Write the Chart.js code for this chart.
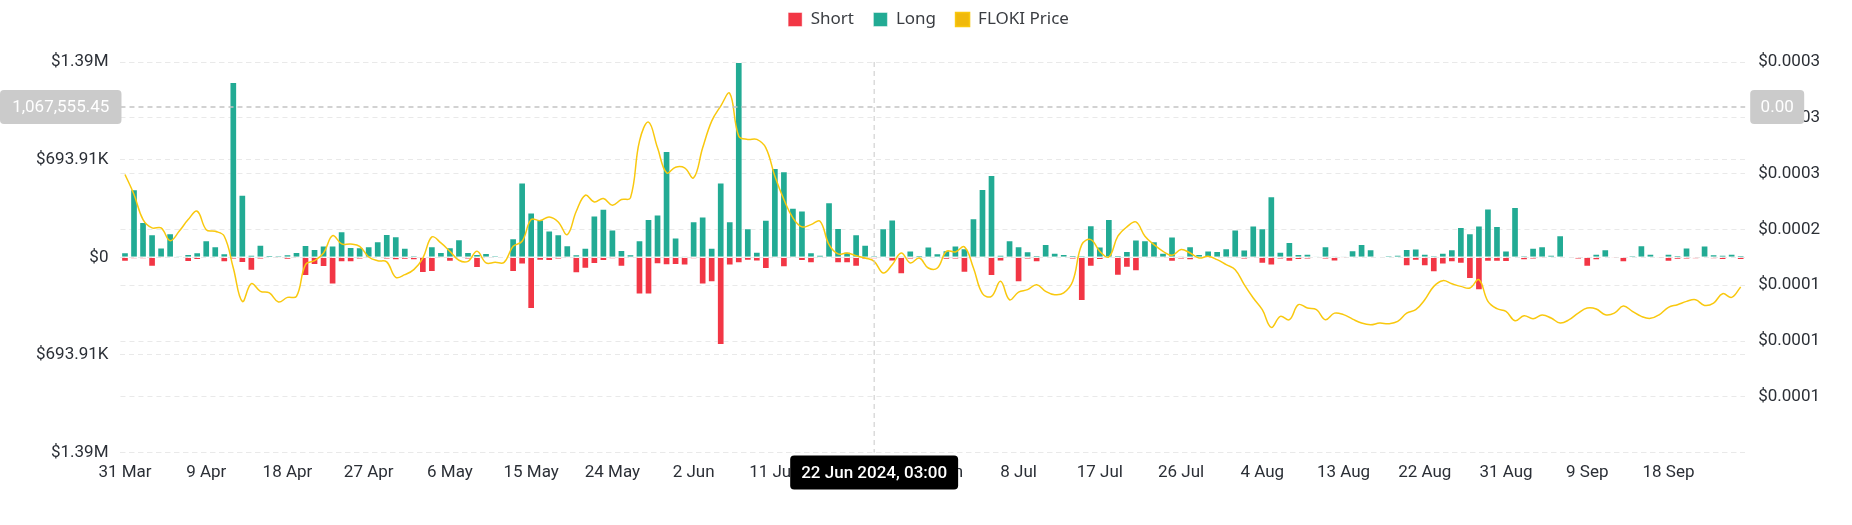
<!DOCTYPE html>
<html>
<head>
<meta charset="utf-8">
<script src="https://cdn.jsdelivr.net/npm/chart.js@4.4.1/dist/chart.umd.min.js"></script>
<style>
  html, body { margin: 0; padding: 0; background: #fff; }
  #wrap { width: 1852px; height: 525px; }
</style>
</head>
<body>
<div id="wrap"><canvas id="liqChart"></canvas></div>
<script>
// daily liquidations in thousands of USD, 31 Mar - 26 Sep 2024
var longUsdK = [
  36, 483, 250, 164, 69, 171, 7, 24, 36, 121,
  78, 29, 1246, 445, 19, 90, 14, 10, 21, 38,
  88, 59, 83, 83, 185, 74, 71, 78, 114, 166,
  150, 67, 12, 3, 78, 38, 71, 128, 38, 24,
  31, 12, 5, 135, 532, 318, 269, 190, 164, 86,
  21, 67, 297, 345, 197, 52, 21, 121, 273, 304,
  756, 140, 7, 257, 290, 67, 532, 257, 1387, 207,
  40, 266, 635, 611, 352, 333, 36, 19, 392, 209,
  40, 164, 90, 10, 207, 269, 7, 48, 14, 76,
  29, 50, 83, 64, 278, 485, 585, 19, 121, 78,
  43, 14, 95, 33, 24, 14, 12, 228, 76, 273,
  14, 45, 126, 121, 114, 33, 147, 7, 78, 24,
  48, 45, 64, 197, 55, 226, 207, 433, 40, 109,
  24, 26, 2, 78, 7, 2, 50, 95, 57, 0,
  10, 19, 59, 62, 26, 12, 33, 57, 216, 171,
  226, 347, 223, 48, 357, 12, 67, 78, 19, 157,
  0, 0, 0, 26, 57, 0, 0, 12, 86, 26,
  0, 26, 14, 69, 5, 83, 21, 17, 26, 14
];
var shortUsdK = [
  31, 10, 10, 67, 5, 3, 0, 33, 19, 2,
  2, 36, 12, 40, 95, 12, 2, 5, 17, 7,
  133, 55, 69, 193, 36, 36, 12, 7, 2, 12,
  21, 17, 21, 112, 105, 7, 31, 2, 12, 76,
  7, 2, 0, 105, 52, 368, 24, 26, 14, 5,
  114, 81, 48, 26, 10, 67, 5, 264, 264, 50,
  57, 55, 59, 10, 193, 178, 623, 59, 43, 24,
  29, 83, 7, 71, 7, 26, 43, 7, 2, 43,
  43, 67, 12, 10, 2, 29, 121, 12, 7, 2,
  0, 17, 12, 109, 7, 2, 133, 29, 7, 178,
  12, 36, 2, 0, 0, 12, 311, 67, 19, 2,
  131, 74, 100, 2, 7, 7, 31, 12, 21, 0,
  5, 0, 5, 5, 12, 5, 45, 59, 12, 31,
  19, 14, 2, 14, 29, 7, 0, 0, 0, 0,
  0, 0, 64, 24, 64, 107, 52, 36, 45, 155,
  235, 31, 31, 33, 0, 21, 12, 5, 0, 2,
  0, 12, 67, 21, 0, 5, 36, 0, 0, 0,
  5, 31, 17, 14, 10, 2, 10, 19, 2, 19
];
var flokiPrice = [
  0.0002706, 0.0002511, 0.0002267, 0.0002186, 0.0002186, 0.0002062, 0.0002153, 0.0002267, 0.0002348, 0.0002169,
  0.0002153, 0.0002105, 0.0001796, 0.0001471, 0.0001643, 0.0001569, 0.0001553, 0.0001465, 0.0001510, 0.0001520,
  0.0001828, 0.0001867, 0.0001942, 0.0002111, 0.0002030, 0.0002030, 0.0002007, 0.0001903, 0.0001867, 0.0001855,
  0.0001705, 0.0001731, 0.0001780, 0.0001893, 0.0002098, 0.0002040, 0.0001958, 0.0001871, 0.0001861, 0.0001958,
  0.0001845, 0.0001851, 0.0001851, 0.0002007, 0.0002056, 0.0002267, 0.0002257, 0.0002293, 0.0002244, 0.0002121,
  0.0002348, 0.0002504, 0.0002439, 0.0002472, 0.0002407, 0.0002462, 0.0002478, 0.0003030, 0.0003215, 0.0002965,
  0.0002722, 0.0002777, 0.0002770, 0.0002673, 0.0002965, 0.0003225, 0.0003371, 0.0003495, 0.0003079, 0.0003047,
  0.0003047, 0.0002965, 0.0002689, 0.0002462, 0.0002283, 0.0002196, 0.0002218, 0.0002251, 0.0002023, 0.0001933,
  0.0001942, 0.0001916, 0.0001893, 0.0001861, 0.0001747, 0.0001828, 0.0001942, 0.0001845, 0.0001893, 0.0001796,
  0.0001796, 0.0001958, 0.0001952, 0.0002001, 0.0001796, 0.0001546, 0.0001520, 0.0001666, 0.0001487, 0.0001562,
  0.0001585, 0.0001634, 0.0001569, 0.0001536, 0.0001553, 0.0001666, 0.0002023, 0.0002072, 0.0001958, 0.0001903,
  0.0002105, 0.0002196, 0.0002244, 0.0002105, 0.0002023, 0.0001958, 0.0001919, 0.0001975, 0.0001942, 0.0001893,
  0.0001910, 0.0001877, 0.0001828, 0.0001780, 0.0001634, 0.0001504, 0.0001390, 0.0001218, 0.0001325, 0.0001293,
  0.0001439, 0.0001406, 0.0001390, 0.0001293, 0.0001357, 0.0001342, 0.0001299, 0.0001260, 0.0001244, 0.0001260,
  0.0001254, 0.0001276, 0.0001357, 0.0001390, 0.0001487, 0.0001617, 0.0001673, 0.0001643, 0.0001617, 0.0001601,
  0.0001682, 0.0001471, 0.0001400, 0.0001374, 0.0001283, 0.0001332, 0.0001302, 0.0001338, 0.0001309, 0.0001260,
  0.0001293, 0.0001357, 0.0001406, 0.0001397, 0.0001342, 0.0001357, 0.0001426, 0.0001374, 0.0001325, 0.0001306,
  0.0001342, 0.0001413, 0.0001439, 0.0001471, 0.0001487, 0.0001432, 0.0001455, 0.0001546, 0.0001510, 0.0001611
];
// right axis labels, top to bottom (as printed on the original)
var priceTickLabels = ['$0.0003', '$0.0003', '$0.0003', '$0.0002', '$0.0001', '$0.0001', '$0.0001', ''];

// hovered point shown in the screenshot
var crossIndex = 83;
var crossValue = 1067555.45;
var crossLeftText = '1,067,555.45';
var crossRightText = '0.00';
var crossDateText = '22 Jun 2024, 03:00';

var monthNames = ['Jan', 'Feb', 'Mar', 'Apr', 'May', 'Jun', 'Jul', 'Aug', 'Sep', 'Oct', 'Nov', 'Dec'];
var firstDay = Date.UTC(2024, 2, 31);
var days = [];
for (var i = 0; i < longUsdK.length; i++) {
  var d = new Date(firstDay + i * 86400000);
  days.push(d.getUTCDate() + ' ' + monthNames[d.getUTCMonth()]);
}

function fmtUsd(v) {
  v = Math.abs(v);
  if (v === 0) return '$0';
  if (v >= 1e6) return '$' + (v / 1e6).toFixed(2) + 'M';
  return '$' + (v / 1e3).toFixed(2) + 'K';
}

Chart.defaults.font.family = 'Roboto, sans-serif';
Chart.defaults.font.size = 17;
Chart.defaults.color = '#2b2f36';

var dashGrid = {
  color: '#e9e9e9',
  lineWidth: 1,
  drawTicks: false
};

// a bit more room under the legend
var legendGap = {
  id: 'legendGap',
  beforeInit: function (chart) {
    var fit = chart.legend.fit;
    chart.legend.fit = function () {
      fit.call(this);
      this.height += 24;
    };
  }
};

function badge(ctx, x, y, w, h, fill, text, font) {
  ctx.fillStyle = fill;
  ctx.beginPath();
  ctx.roundRect(x, y, w, h, 4);
  ctx.fill();
  ctx.fillStyle = '#ffffff';
  ctx.font = font;
  ctx.textAlign = 'center';
  ctx.textBaseline = 'middle';
  ctx.fillText(text, x + w / 2, y + h / 2 + 1);
}

var crosshair = {
  id: 'crosshair',
  afterDatasetsDraw: function (chart) {
    var ctx = chart.ctx, area = chart.chartArea;
    var x = chart.scales.x.getPixelForValue(crossIndex);
    var y = chart.scales.y.getPixelForValue(crossValue);
    ctx.save();
    ctx.setLineDash([5, 4]);
    ctx.lineWidth = 1;
    ctx.strokeStyle = '#c8c8c8';
    ctx.beginPath();
    ctx.moveTo(x, area.top);
    ctx.lineTo(x, area.bottom);
    ctx.stroke();
    ctx.lineWidth = 1.5;
    ctx.strokeStyle = '#c4c4c4';
    ctx.beginPath();
    ctx.moveTo(area.left, y);
    ctx.lineTo(area.right, y);
    ctx.stroke();
    ctx.restore();
  },
  afterDraw: function (chart) {
    var ctx = chart.ctx, area = chart.chartArea;
    var x = chart.scales.x.getPixelForValue(crossIndex);
    var y = chart.scales.y.getPixelForValue(crossValue);
    ctx.save();
    badge(ctx, 0, y - 17, area.left + 1, 34, '#cbcbcb', crossLeftText, '17px Roboto');
    badge(ctx, area.right + 5, y - 17, 54, 34, '#cbcbcb', crossRightText, '17px Roboto');
    ctx.font = '500 17px Roboto';
    var tw = ctx.measureText(crossDateText).width + 22;
    badge(ctx, x - tw / 2, area.bottom + 3, tw, 34, '#000000', crossDateText, '500 17px Roboto');
    ctx.restore();
  }
};

var ctx = document.getElementById('liqChart').getContext('2d');
var chart = new Chart(ctx, {
  type: 'bar',
  data: {
    labels: days,
    datasets: [
      {
        label: 'Short',
        data: shortUsdK.map(function (v) { return -v * 1000; }),
        backgroundColor: '#F23645',
        borderColor: 'rgba(255,255,255,0.45)',
        borderWidth: 1,
        order: 1
      },
      {
        label: 'Long',
        data: longUsdK.map(function (v) { return v * 1000; }),
        backgroundColor: '#22AB94',
        borderColor: 'rgba(255,255,255,0.45)',
        borderWidth: 1,
        order: 1
      },
      {
        type: 'line',
        label: 'FLOKI Price',
        data: flokiPrice,
        yAxisID: 'y1',
        borderColor: '#F9C80E',
        backgroundColor: '#F0B90B',
        borderWidth: 1.5,
        pointRadius: 0,
        tension: 0.4,
        fill: false,
        order: 0
      }
    ]
  },
  options: {
    responsive: true,
    maintainAspectRatio: false,
    animation: false,
    datasets: {
      bar: { barPercentage: 0.85, categoryPercentage: 1 }
    },
    layout: {
      padding: { left: 24, right: 19, top: 0, bottom: 32 }
    },
    plugins: {
      tooltip: { enabled: false },
      legend: {
        position: 'top',
        labels: {
          boxWidth: 14,
          boxHeight: 14,
          padding: 11,
          color: '#3a3d42',
          font: { family: 'Noto Sans', size: 17 },
          generateLabels: function (chart) {
            var items = Chart.defaults.plugins.legend.labels.generateLabels(chart);
            items.sort(function (a, b) { return a.datasetIndex - b.datasetIndex; });
            items.forEach(function (it, k) {
              if (k < items.length - 1) it.text += '\u2002';
            });
            return items;
          }
        }
      }
    },
    scales: {
      x: {
        stacked: true,
        grid: { display: false, drawTicks: false },
        border: { display: false },
        ticks: {
          autoSkip: false,
          maxRotation: 0,
          padding: 10,
          callback: function (val, idx) {
            return idx % 9 === 0 ? days[idx] : '';
          }
        }
      },
      y: {
        stacked: true,
        position: 'left',
        min: -1387820,
        max: 1387820,
        grid: dashGrid,
        border: { display: false, dash: [5, 4] },
        ticks: {
          stepSize: 693910,
          padding: 12,
          callback: function (v) { return fmtUsd(v); }
        }
      },
      y1: {
        position: 'right',
        min: 0,
        max: 0.00038,
        grid: dashGrid,
        border: { display: false, dash: [5, 4] },
        afterBuildTicks: function (axis) {
          var n = priceTickLabels.length - 1;
          var step = (axis.max - axis.min) / n;
          var t = [];
          for (var k = 0; k <= n; k++) t.push({ value: axis.min + k * step });
          axis.ticks = t;
        },
        ticks: {
          padding: 13,
          callback: function (v, idx) {
            return priceTickLabels[priceTickLabels.length - 1 - idx];
          }
        }
      }
    }
  },
  plugins: [legendGap, crosshair]
});
</script>
</body>
</html>
